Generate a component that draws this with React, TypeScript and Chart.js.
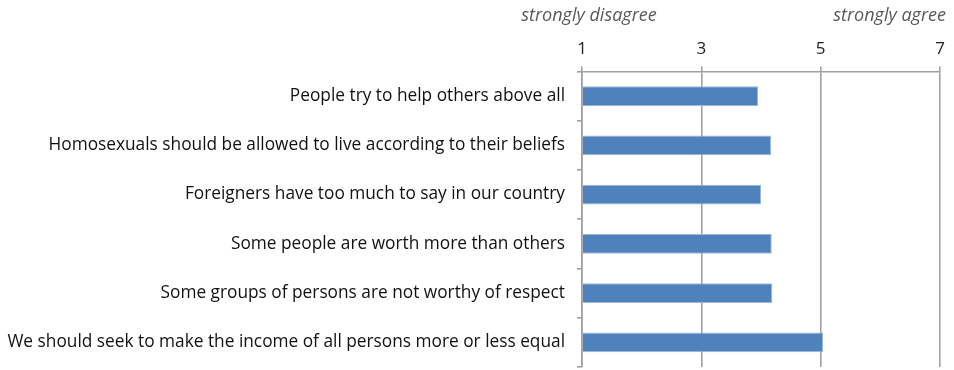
import React, { useEffect, useRef } from "react";
import { Chart, registerables } from "chart.js";

Chart.register(...registerables);

const categories = [
  "People try to help others above all",
  "Homosexuals should be allowed to live according to their beliefs",
  "Foreigners have too much to say in our country",
  "Some people are worth more than others",
  "Some groups of persons are not worthy of respect",
  "We should seek to make the income of all persons more or less equal",
];
const values = [3.95, 4.17, 4.0, 4.18, 4.19, 5.04];
const scaleMin = 1;
const scaleMax = 7;
const scaleStep = 2;
const leftNote = "strongly disagree";
const rightNote = "strongly agree";

const FONT = "'Open Sans', 'Noto Sans', sans-serif";

const notesPlugin = {
  id: "notes",
  afterDraw(chart: any) {
    const { ctx, scales } = chart;
    const x = scales.x;
    ctx.save();
    ctx.font = `italic 18px ${FONT}`;
    ctx.fillStyle = "#595959";
    ctx.textBaseline = "middle";
    ctx.textAlign = "center";
    ctx.fillText(leftNote, x.getPixelForValue(scaleMin) + 7, 16);
    ctx.textAlign = "right";
    ctx.fillText(rightNote, x.getPixelForValue(scaleMax) + 6, 16);
    ctx.restore();
  },
};

export default function App() {
  const ref = useRef<HTMLCanvasElement | null>(null);
  useEffect(() => {
    document.body.style.margin = "0";
    const chart = new Chart(ref.current!, {
      type: "bar",
      data: {
        labels: categories,
        datasets: [
          {
            data: values,
            base: scaleMin,
            backgroundColor: "#4F81BD",
            borderColor: "#9bb8dc",
            borderWidth: 1,
            categoryPercentage: 1,
            barPercentage: 0.4,
          },
        ],
      },
      options: {
        indexAxis: "y",
        animation: false,
        responsive: true,
        maintainAspectRatio: false,
        layout: { padding: { top: 32, right: 14, left: 0, bottom: 3 } },
        plugins: { legend: { display: false }, tooltip: { enabled: false } },
        scales: {
          x: {
            position: "top",
            min: scaleMin,
            max: scaleMax,
            ticks: {
              stepSize: scaleStep,
              color: "#222",
              font: { family: FONT, size: 17 },
              padding: 7,
            },
            grid: {
              color: "#a0a0a0",
              lineWidth: 1.6,
              tickLength: 5,
              drawOnChartArea: true,
            },
            border: { display: true, color: "#a0a0a0", width: 1.6 },
          },
          y: {
            afterFit(scale: any) {
              scale.width = 582;
              scale.paddingTop = 0;
              scale.paddingBottom = 0;
            },
            ticks: {
              color: "#111",
              font: { family: FONT, size: 17.3 },
              padding: 12,
            },
            grid: {
              offset: true,
              drawOnChartArea: false,
              color: "#a0a0a0",
              lineWidth: 1.6,
              tickLength: 5,
            },
            border: { display: true, color: "#a0a0a0", width: 1.6 },
          },
        },
      },
      plugins: [notesPlugin],
    });
    return () => chart.destroy();
  }, []);
  return (
    <div style={{ width: 954, height: 370, position: "relative" }}>
      <canvas ref={ref} />
    </div>
  );
}
